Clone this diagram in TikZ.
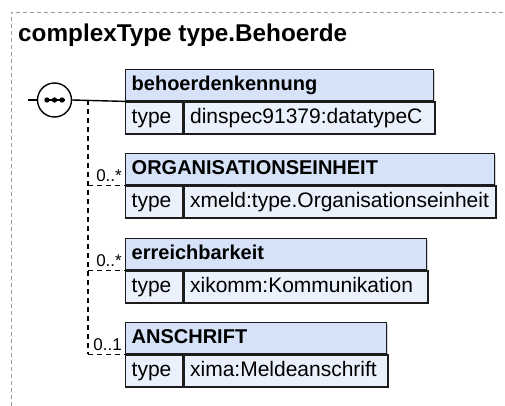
\documentclass[tikz,border=0pt]{standalone}
\usepackage{fontspec}
\setmainfont{Liberation Sans}
\usepackage{tikz}
\usetikzlibrary{positioning,calc,shadows}
\definecolor{hdrblue}{HTML}{D5E2F7}
\definecolor{rowblue}{HTML}{EBF1FC}
\definecolor{boxline}{HTML}{1C1C1C}
\definecolor{frameline}{HTML}{9A9A9A}

\begin{document}
\begin{tikzpicture}[x=1pt,y=-1pt,
  frame/.style={draw=frameline,line width=0.9pt,dash pattern=on 4pt off 3pt},
  title/.style={font=\fontsize{24.3}{29}\selectfont\bfseries,inner sep=0pt},
  hdr/.style={draw=boxline,fill=hdrblue,line width=1.4pt,minimum height=31pt,inner xsep=6pt,inner ysep=0pt,text height=14pt,text depth=4pt,align=left,font=\fontsize{20}{24}\selectfont\bfseries,drop shadow={shadow xshift=1.3pt,shadow yshift=-1.3pt,fill=black!35}},
  tlab/.style={draw=boxline,fill=rowblue,line width=1.4pt,minimum height=32pt,inner xsep=6pt,inner ysep=0pt,text height=15pt,text depth=4pt,text width=45pt,align=left,font=\fontsize{21}{25}\selectfont,drop shadow={shadow xshift=1.3pt,shadow yshift=-1.3pt,fill=black!35}},
  tval/.style={tlab},
  mult/.style={font=\fontsize{17}{20}\selectfont,inner sep=0pt},
  conn/.style={draw=black,line width=1.4pt},
  opt/.style={conn,dash pattern=on 5pt off 4pt},
  seq/.style={circle,draw=black,fill=white,line width=1.4pt,minimum size=34pt,inner sep=0pt}]
  \useasboundingbox (0,0) rectangle (505,406);
  \draw[frame] (11,406) -- (11,12) -- (505,12);
  \node[title,anchor=base west] (ttl) at (18,42) {complexType type.Behoerde};
  % sequence compositor
  \coordinate (stub) at (28,100);
  \node[seq] (circ) at (54.5,100) {};
  \draw[conn] (stub) -- (circ.west);
  \draw[line width=1.4pt] ([xshift=-10pt]circ.center) -- ([xshift=10pt]circ.center);
  \foreach \dx in {-7.5,0,7.5}
    \fill ([xshift=\dx pt]circ.center) circle (2.7pt);
  % elements
  \node[hdr,anchor=north west,text width=296pt] (b1) at (125,69) {behoerdenkennung};
  \node[tlab,anchor=north west] (b1l) at (b1.south west) {type};
  \node[tval,anchor=north west,text width=239pt] (b1v) at (b1l.north east) {dinspec91379:datatypeC};
  \node[hdr,anchor=north west,text width=357pt] (b2) at (125,153) {ORGANISATIONSEINHEIT};
  \node[tlab,anchor=north west] (b2l) at (b2.south west) {type};
  \node[tval,anchor=north west,text width=300pt] (b2v) at (b2l.north east) {xmeld:type.Organisationseinheit};
  \node[hdr,anchor=north west,text width=289pt] (b3) at (125,238) {erreichbarkeit};
  \node[tlab,anchor=north west] (b3l) at (b3.south west) {type};
  \node[tval,anchor=north west,text width=232pt] (b3v) at (b3l.north east) {xikomm:Kommunikation};
  \node[hdr,anchor=north west,text width=249pt] (b4) at (125,322) {ANSCHRIFT};
  \node[tlab,anchor=north west] (b4l) at (b4.south west) {type};
  \node[tval,anchor=north west,text width=192pt] (b4v) at (b4l.north east) {xima:Meldeanschrift};
  % connectors
  \coordinate (fork) at (88,100);
  \draw[conn] (circ.east) -- (b1.south west);
  \draw[opt] (fork) -- (fork |- b4.south west);
  \draw[opt] (fork |- b2.south west) -- (b2.south west);
  \draw[opt] (fork |- b3.south west) -- (b3.south west);
  \draw[opt] (fork |- b4.south west) -- (b4.south west);
  \node[mult,anchor=base east] (m2) at ([xshift=-3pt,yshift=4pt]b2.south west) {0..*};
  \node[mult,anchor=base east] (m3) at ([xshift=-3pt,yshift=4pt]b3.south west) {0..*};
  \node[mult,anchor=base east] (m4) at ([xshift=-3pt,yshift=4pt]b4.south west) {0..1};
\end{tikzpicture}
\end{document}
